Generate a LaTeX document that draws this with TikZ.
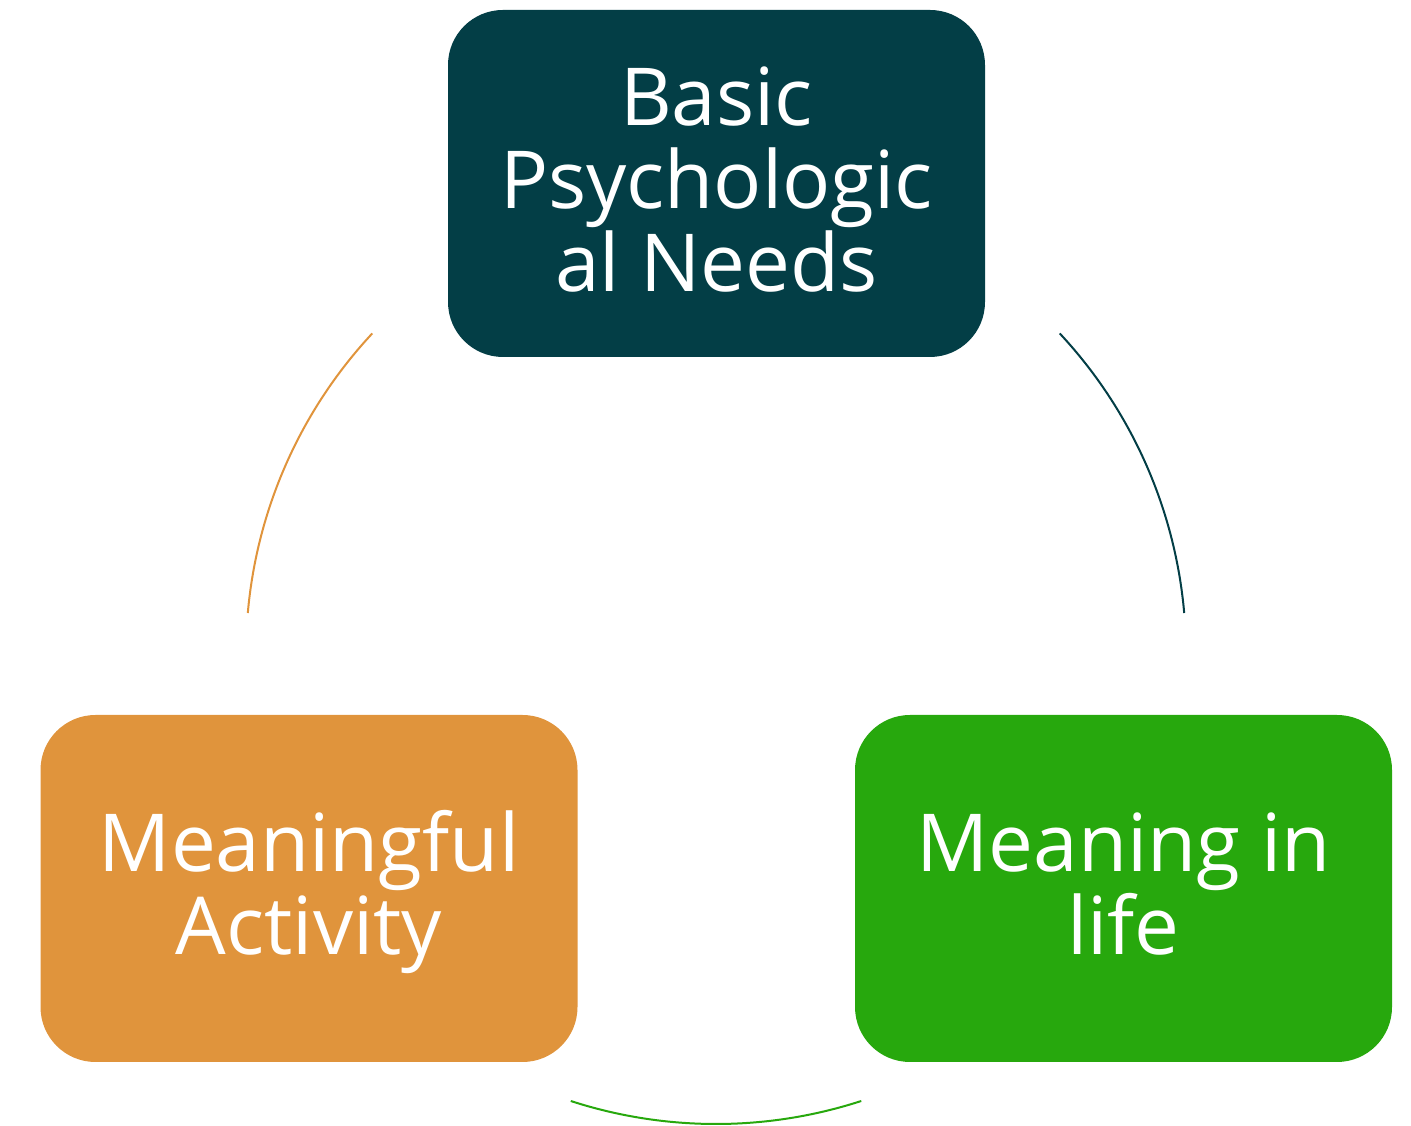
\documentclass[tikz,border=0pt]{standalone}
\usepackage{fontspec}
\setmainfont{Open Sans}
\definecolor{teal}{HTML}{033E46}
\definecolor{orng}{HTML}{E0943C}
\definecolor{grn}{HTML}{27A80D}
\newcommand{\fixht}{\vphantom{fly}}
\begin{document}
\begin{tikzpicture}[x=1pt,y=1pt,
  box/.style={rounded corners=55pt, minimum width=537pt, minimum height=347pt, inner sep=0pt},
  lbl/.style={text=white, align=center, inner sep=0pt, yshift=-4pt,
    font=\fontsize{80}{83}\selectfont},
  ring/.style={line width=2pt}]
\useasboundingbox (0,0) rectangle (1411,1126);
\node[box, fill=teal] (bpn) at (716.5,942.5) {};
\node[box, fill=orng] (ma) at (309,237.5) {};
\node[box, fill=grn] (mil) at (1123.5,237.5) {};
\node[lbl] (bpnt) at (bpn.center) {\fixht Basic\\Psychologic\\al Needs\fixht};
\node[lbl] (mat) at (ma.center) {\fixht Meaningful\\Activity\fixht};
\node[lbl] (milt) at (mil.center) {\fixht Meaning in\\life\fixht};
\coordinate (c) at (716,472);
\draw[ring, teal] (c) ++(43:470) coordinate (r1) arc[start angle=43, end angle=5, radius=470];
\draw[ring, orng] (c) ++(137:470) coordinate (l1) arc[start angle=137, end angle=175, radius=470];
\draw[ring, grn] (c) ++(252:470) coordinate (b1) arc[start angle=252, end angle=288, radius=470];
\end{tikzpicture}
\end{document}
